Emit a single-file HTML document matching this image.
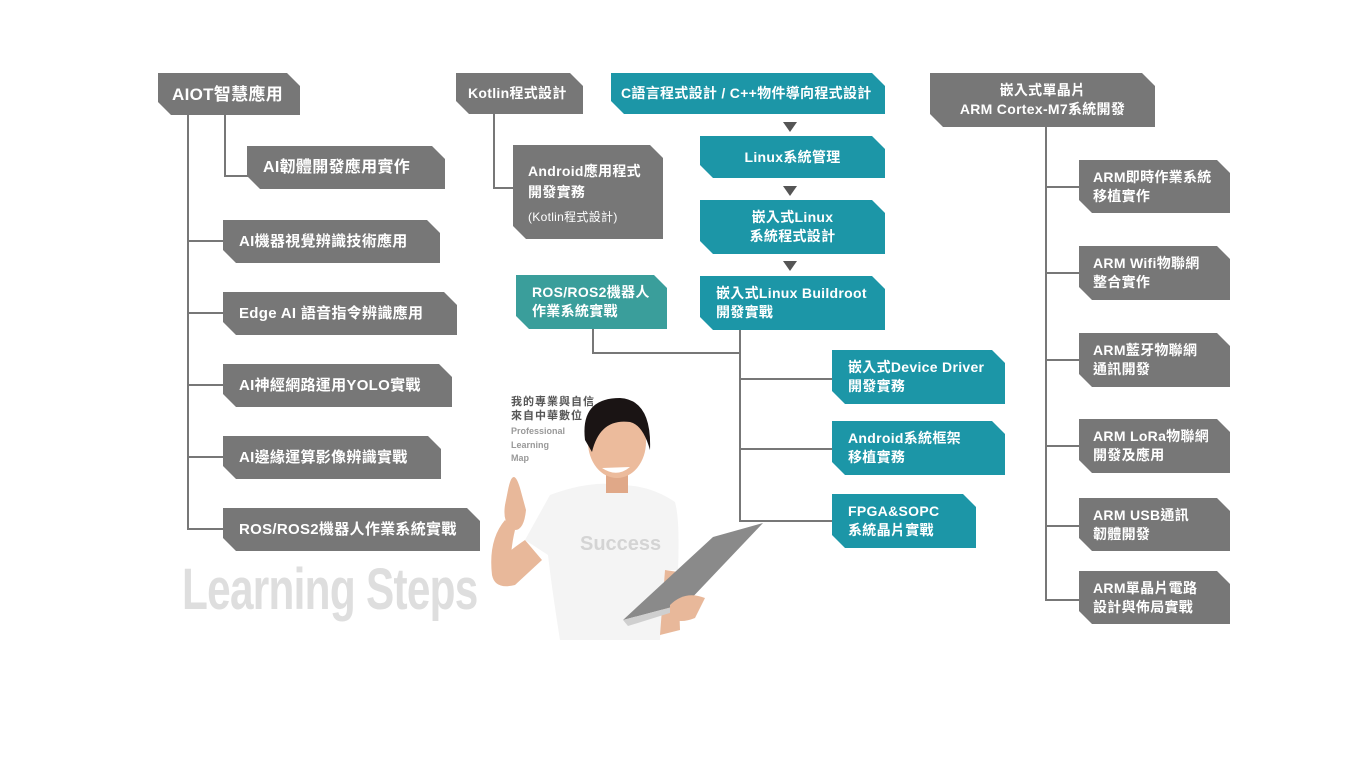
<!DOCTYPE html>
<html><head><meta charset="utf-8">
<style>
*{margin:0;padding:0;box-sizing:border-box}
body{width:1366px;height:768px;background:#fff;position:relative;overflow:hidden;font-family:"Liberation Sans","Noto Sans CJK TC",sans-serif}
.b{position:absolute;color:#fff;font-weight:bold;font-size:14px;line-height:19px;display:flex;flex-direction:column;justify-content:center;padding-left:16px;
clip-path:polygon(0 0,calc(100% - 13px) 0,100% 13px,100% 100%,13px 100%,0 calc(100% - 13px));letter-spacing:0.3px}
.g{background:#777}
.t{background:#1c96a7}
.c{align-items:center;padding-left:0;text-align:center}
.l{position:absolute;background:#777}
.ar{position:absolute;width:0;height:0;border-left:7px solid transparent;border-right:7px solid transparent;border-top:10px solid #555}
</style></head><body>
<div class="l" style="left:187px;top:115px;width:2px;height:414px"></div>
<div class="l" style="left:224px;top:115px;width:2px;height:62px"></div>
<div class="l" style="left:224px;top:175px;width:24px;height:2px"></div>
<div class="l" style="left:187px;top:240px;width:37px;height:2px"></div>
<div class="l" style="left:187px;top:312px;width:37px;height:2px"></div>
<div class="l" style="left:187px;top:384px;width:37px;height:2px"></div>
<div class="l" style="left:187px;top:456px;width:37px;height:2px"></div>
<div class="l" style="left:187px;top:528px;width:37px;height:2px"></div>

<div class="b g" style="left:158px;top:73px;width:142px;height:42px;font-size:17px;padding-left:14px">AIOT智慧應用</div>
<div class="b g" style="left:247px;top:146px;width:198px;height:43px;font-size:16px">AI韌體開發應用實作</div>
<div class="b g" style="left:223px;top:220px;width:217px;height:43px;font-size:15px">AI機器視覺辨識技術應用</div>
<div class="b g" style="left:223px;top:292px;width:234px;height:43px;font-size:15px">Edge AI 語音指令辨識應用</div>
<div class="b g" style="left:223px;top:364px;width:229px;height:43px;font-size:15px">AI神經網路運用YOLO實戰</div>
<div class="b g" style="left:223px;top:436px;width:218px;height:43px;font-size:15px">AI邊緣運算影像辨識實戰</div>
<div class="b g" style="left:223px;top:508px;width:257px;height:43px;font-size:15px">ROS/ROS2機器人作業系統實戰</div>

<div class="l" style="left:493px;top:114px;width:2px;height:75px"></div>
<div class="l" style="left:493px;top:187px;width:21px;height:2px"></div>
<div class="b g" style="left:456px;top:73px;width:127px;height:41px;padding-left:12px">Kotlin程式設計</div>
<div class="b g" style="left:513px;top:145px;width:150px;height:94px;padding-left:15px;justify-content:flex-start;padding-top:16px;line-height:21px">Android應用程式<br>開發實務<span style="font-size:12px;font-weight:normal;margin-top:4px">(Kotlin程式設計)</span></div>

<div class="b t" style="left:611px;top:73px;width:274px;height:41px;padding-left:10px">C語言程式設計 / C++物件導向程式設計</div>
<div class="ar" style="left:783px;top:122px"></div>
<div class="b t c" style="left:700px;top:136px;width:185px;height:42px">Linux系統管理</div>
<div class="ar" style="left:783px;top:186px"></div>
<div class="b t c" style="left:700px;top:200px;width:185px;height:54px">嵌入式Linux<br>系統程式設計</div>
<div class="ar" style="left:783px;top:261px"></div>
<div class="b t" style="left:700px;top:276px;width:185px;height:54px">嵌入式Linux Buildroot<br>開發實戰</div>
<div class="b" style="left:516px;top:275px;width:151px;height:54px;background:#3a9e9b">ROS/ROS2機器人<br>作業系統實戰</div>

<div class="l" style="left:592px;top:329px;width:2px;height:25px"></div>
<div class="l" style="left:592px;top:352px;width:149px;height:2px"></div>
<div class="l" style="left:739px;top:330px;width:2px;height:192px"></div>
<div class="l" style="left:739px;top:378px;width:93px;height:2px"></div>
<div class="l" style="left:739px;top:448px;width:93px;height:2px"></div>
<div class="l" style="left:739px;top:520px;width:93px;height:2px"></div>
<div class="b t" style="left:832px;top:350px;width:173px;height:54px">嵌入式Device Driver<br>開發實務</div>
<div class="b t" style="left:832px;top:421px;width:173px;height:54px">Android系統框架<br>移植實務</div>
<div class="b t" style="left:832px;top:494px;width:144px;height:54px">FPGA&amp;SOPC<br>系統晶片實戰</div>

<div class="l" style="left:1045px;top:127px;width:2px;height:474px"></div>
<div class="l" style="left:1045px;top:186px;width:34px;height:2px"></div>
<div class="l" style="left:1045px;top:272px;width:34px;height:2px"></div>
<div class="l" style="left:1045px;top:359px;width:34px;height:2px"></div>
<div class="l" style="left:1045px;top:445px;width:34px;height:2px"></div>
<div class="l" style="left:1045px;top:525px;width:34px;height:2px"></div>
<div class="l" style="left:1045px;top:599px;width:34px;height:2px"></div>
<div class="b g c" style="left:930px;top:73px;width:225px;height:54px">嵌入式單晶片<br>ARM Cortex-M7系統開發</div>
<div class="b g" style="left:1079px;top:160px;width:151px;height:53px;padding-left:14px">ARM即時作業系統<br>移植實作</div>
<div class="b g" style="left:1079px;top:246px;width:151px;height:54px;padding-left:14px">ARM Wifi物聯網<br>整合實作</div>
<div class="b g" style="left:1079px;top:333px;width:151px;height:54px;padding-left:14px">ARM藍牙物聯網<br>通訊開發</div>
<div class="b g" style="left:1079px;top:419px;width:151px;height:54px;padding-left:14px">ARM LoRa物聯網<br>開發及應用</div>
<div class="b g" style="left:1079px;top:498px;width:151px;height:53px;padding-left:14px">ARM USB通訊<br>韌體開發</div>
<div class="b g" style="left:1079px;top:571px;width:151px;height:53px;padding-left:14px">ARM單晶片電路<br>設計與佈局實戰</div>

<div style="position:absolute;left:182px;top:556px;font-size:58px;font-weight:bold;color:#dedede;letter-spacing:-1px;transform:scaleX(0.73);transform-origin:left;white-space:nowrap">Learning Steps</div>

<svg style="position:absolute;left:480px;top:390px" width="290" height="250" viewBox="0 0 290 250">
 <path d="M70 105 Q110 90 140 95 Q170 95 195 112 Q200 130 198 180 L185 180 L180 250 L80 250 Q72 200 68 165 L45 150 Z" fill="#f4f4f4"/>
 <path d="M45 150 Q30 160 20 170 L12 185 Q15 200 35 195 L62 170Z" fill="#e8b89a"/>
 <path d="M12 185 Q8 150 25 130 L35 140 Q30 160 30 190Z" fill="#e8b89a"/>
 <path d="M28 100 Q33 75 40 98 L46 120 Q44 140 35 140 Q22 135 25 115Z" fill="#e8b89a"/>
 <rect x="126" y="75" width="22" height="28" fill="#e0a888"/>
 <ellipse cx="137" cy="52" rx="29" ry="36" fill="#ecbb9c"/>
 <path d="M105 50 Q100 8 140 8 Q172 10 170 60 Q163 35 150 32 Q120 28 112 62Z" fill="#1a1414"/>
 <path d="M122 78 Q137 88 150 77Z" fill="#fff"/>
 <path d="M185 180 L198 182 L200 240 L180 245Z" fill="#e8b89a"/>
 <polygon points="233,147 283,133 207,213 143,230" fill="#8a8a8a"/>
 <polygon points="143,230 207,213 212,216 148,236" fill="#cfcfcf"/>
 <path d="M190 215 Q205 200 225 208 L215 228 Q200 234 190 228Z" fill="#e8b89a"/>
 <text x="100" y="160" font-size="20" font-weight="bold" fill="#d4d4d4" font-family="Liberation Sans,sans-serif">Success</text>
</svg>
<div style="position:absolute;left:511px;top:395px;font-size:11px;font-weight:bold;color:#555;line-height:14px;letter-spacing:1px">我的專業與自信<br>來自中華數位</div>
<div style="position:absolute;left:511px;top:425px;font-size:9px;font-weight:bold;color:#999;line-height:13.5px">Professional<br>Learning<br>Map</div>
</body></html>
